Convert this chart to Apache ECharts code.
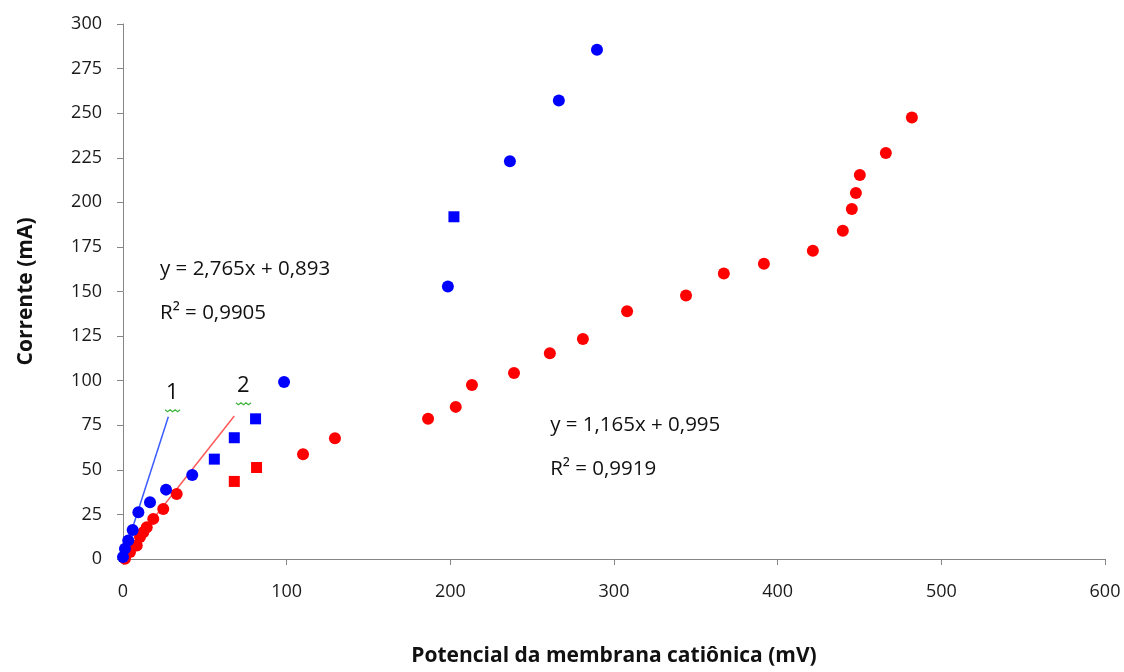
<!DOCTYPE html>
<html>
<head>
<meta charset="utf-8">
<script src="https://cdn.jsdelivr.net/npm/echarts@6/dist/echarts.min.js"></script>
<style>html,body{margin:0;padding:0;background:#fff;}#c{width:1124px;height:672px;}</style>
</head>
<body>
<div id="c"></div>
<script>
// Series 1 (blue) — circles and squares
const blueCircles = [[0,1.1],[1.2,5.7],[3.2,10.4],[5.9,16.3],[9.4,26.2],[16.5,31.8],[26.3,38.9],[42.3,47.1],[98.4,99.3],[198.5,152.8],[236.4,223.1],[266.3,257.1],[289.6,285.6]];
const blueSquares = [[55.8,56],[68,68],[81,78.6],[202.2,191.9]];
// Series 2 (red) — circles and squares
const redCircles = [[1.2,0.2],[4.3,3.9],[8.4,7.6],[10.4,12.3],[12.4,15],[14.5,17.8],[18.5,22.5],[24.6,28],[32.8,36.4],[110,58.7],[129.5,67.7],[186.4,78.6],[203.3,85.3],[213.2,97.6],[238.9,104.3],[260.8,115.4],[281,123.3],[308,138.9],[344,147.8],[367.1,160.1],[391.6,165.6],[421.5,172.9],[439.8,184],[445.3,196.3],[447.8,205.2],[450.2,215.3],[466.1,227.6],[482,247.6]];
const redSquares = [[68,43.5],[81.6,51.3]];
// Linear trend lines (as drawn)
const trend1 = [[0,0.9],[27.7,79.8]];
const trend2 = [[0,1],[68,80.2]];
// Texts
const eq1 = ['y = 2,765x + 0,893', 'R² = 0,9905'];
const eq2 = ['y = 1,165x + 0,995', 'R² = 0,9919'];
const xTitle = 'Potencial da membrana catiônica (mV)';
const yTitle = 'Corrente (mA)';

const FONT = "'Open Sans', 'Liberation Sans', sans-serif";
const chart = echarts.init(document.getElementById('c'));
const axisCommon = {
  axisLine: {show: true, lineStyle: {color: '#868686', width: 1}},
  axisTick: {show: true, length: 6, lineStyle: {color: '#868686'}},
  splitLine: {show: false},
  nameTextStyle: {fontFamily: FONT, fontSize: 21, fontWeight: 'bold', color: '#111'}
};
chart.setOption({
  animation: false,
  backgroundColor: '#fff',
  grid: {left: 123, right: 19, top: 24, bottom: 110, containLabel: false},
  xAxis: Object.assign({}, axisCommon, {
    type: 'value', min: 0, max: 600, interval: 100,
    name: xTitle, nameLocation: 'middle', nameGap: 87,
    axisLabel: {fontFamily: FONT, fontSize: 18, color: '#1a1a1a', margin: 24}
  }),
  yAxis: Object.assign({}, axisCommon, {
    type: 'value', min: 0, max: 300, interval: 25,
    name: yTitle, nameLocation: 'middle', nameGap: 86,
    axisLabel: {fontFamily: FONT, fontSize: 18, color: '#1a1a1a', margin: 21}
  }),
  series: [
    {type: 'line', data: trend1, symbol: 'none', lineStyle: {color: '#3a5cff', width: 1.5}, z: 1},
    {type: 'line', data: trend2, symbol: 'none', lineStyle: {color: '#ff5a5a', width: 1.5}, z: 1},
    {type: 'scatter', data: blueCircles, symbol: 'circle', symbolSize: 12, itemStyle: {color: '#0000ff', opacity: 1}, z: 3},
    {type: 'scatter', data: blueSquares, symbol: 'rect', symbolSize: 11, itemStyle: {color: '#0000ff', opacity: 1}, z: 3},
    {type: 'scatter', data: redCircles, symbol: 'circle', symbolSize: 12, itemStyle: {color: '#ff0000', opacity: 1}, z: 2},
    {type: 'scatter', data: redSquares, symbol: 'rect', symbolSize: 11, itemStyle: {color: '#ff0000', opacity: 1}, z: 2}
  ]
});

function px(p) { return chart.convertToPixel({gridIndex: 0}, p); }
function eqGraphic(lines, anchor) {
  const p = px(anchor);
  return {
    type: 'text', left: p[0], top: p[1],
    style: {
      text: lines[0] + '\n' + lines[1],
      fontFamily: FONT, fontSize: 20.5, fill: '#111', lineHeight: 44
    }
  };
}
function numLabel(t, anchor) {
  const p = px(anchor);
  const g = [{type: 'text', left: p[0] - 6, top: p[1] - 16, style: {text: t, fontFamily: FONT, fontSize: 22, fill: '#111'}}];
  const pts = [];
  for (let i = 0; i <= 6; i++) pts.push([p[0] - 7 + i * 2.5, p[1] + 12 + (i % 2 ? 2 : 0)]);
  g.push({type: 'polyline', shape: {points: pts}, style: {stroke: '#3cb43c', lineWidth: 1.2, fill: null}});
  return g;
}
chart.setOption({
  graphic: [
    eqGraphic(eq1, [22.6, 174.8]),
    eqGraphic(eq2, [261, 87.2])
  ].concat(numLabel('1', [30, 90.4])).concat(numLabel('2', [73.3, 94.3]))
});
</script>
</body>
</html>
